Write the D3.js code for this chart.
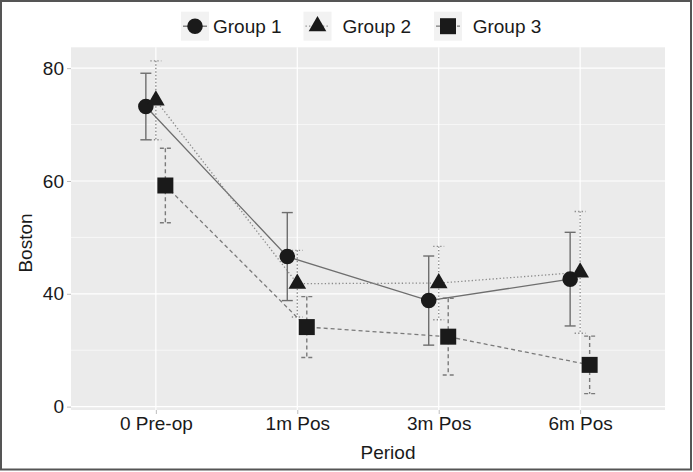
<!DOCTYPE html>
<html>
<head>
<meta charset="utf-8">
<script src="https://cdn.jsdelivr.net/npm/d3@7"></script>
<style>
  html, body { margin: 0; padding: 0; background: #fff; }
  svg { display: block; }
  text { font-family: "Liberation Sans", Arial, Helvetica, sans-serif; }
</style>
</head>
<body>
<div id="chart"></div>
<script>
// ---- data ----
const categories = ["0 Pre-op", "1m Pos", "3m Pos", "6m Pos"];
const groups = ["Group 1", "Group 2", "Group 3"];
const group1Mean = [73.2, 46.6, 38.8, 42.6];
const group1Err  = [5.9, 7.8, 7.9, 8.3];
const group2Mean = [74.3, 41.8, 41.9, 43.8];
const group2Err  = [7.0, 5.9, 6.5, 10.8];
const group3Mean = [59.2, 34.1, 32.4, 27.4];
const group3Err  = [6.6, 5.4, 6.8, 5.1];
const yTickValues = [20, 40, 60, 80];
const yTickLabels = ["0", "40", "60", "80"];
const yMinorValues = [30, 50, 70];
const xTitle = "Period";
const yTitle = "Boston";

// ---- layout ----
const W = 693, H = 472;
const panel = { left: 71, right: 665, top: 47.3, bottom: 410 };
const dodge = [-10, 0, 9.5];
const dash = ["none", "1.3,2.2", "4,3"];
const lineColor = ["#6e6e6e", "#8a8a8a", "#7a7a7a"];
const symbols = [d3.symbolCircle, d3.symbolTriangle, d3.symbolSquare];
const symSizes = [190, 135, 256];
const ink = "#1a1a1a";

const series = [
  { name: groups[0], mean: group1Mean, err: group1Err },
  { name: groups[1], mean: group2Mean, err: group2Err },
  { name: groups[2], mean: group3Mean, err: group3Err }
];

const svg = d3.select("#chart").append("svg")
  .attr("width", W).attr("height", H);

svg.append("rect").attr("x", 0).attr("y", 0).attr("width", W).attr("height", H).attr("fill", "#fff");

const x = d3.scalePoint().domain(categories).range([panel.left, panel.right]).padding(0.6);
const y = d3.scaleLinear().domain([19.4, 83.7]).range([panel.bottom, panel.top]);

// panel background
svg.append("rect")
  .attr("x", panel.left).attr("y", panel.top)
  .attr("width", panel.right - panel.left).attr("height", panel.bottom - panel.top)
  .attr("fill", "#ebebeb");

// grid
const g = svg.append("g");
g.selectAll(".minor").data(yMinorValues).join("line")
  .attr("x1", panel.left).attr("x2", panel.right)
  .attr("y1", d => y(d)).attr("y2", d => y(d))
  .attr("stroke", "#fff").attr("stroke-width", 0.6);
g.selectAll(".majorY").data(yTickValues).join("line")
  .attr("x1", panel.left).attr("x2", panel.right)
  .attr("y1", d => y(d)).attr("y2", d => y(d))
  .attr("stroke", "#fff").attr("stroke-width", 1.2);
g.selectAll(".majorX").data(categories).join("line")
  .attr("x1", d => x(d)).attr("x2", d => x(d))
  .attr("y1", panel.top).attr("y2", panel.bottom)
  .attr("stroke", "#fff").attr("stroke-width", 1.2);

// axes
const yAxis = d3.axisLeft(y).tickValues(yTickValues)
  .tickFormat((d, i) => yTickLabels[i]).tickSize(4).tickPadding(3);
const ya = svg.append("g").attr("transform", `translate(${panel.left},0)`).call(yAxis);
ya.select(".domain").remove();
ya.selectAll(".tick line").attr("stroke", "#bdbdbd");
ya.selectAll(".tick text").attr("fill", ink).attr("font-size", 19);

const xAxis = d3.axisBottom(x).tickSize(4).tickPadding(3);
const xa = svg.append("g").attr("transform", `translate(0,${panel.bottom})`).call(xAxis);
xa.select(".domain").remove();
xa.selectAll(".tick line").attr("stroke", "#bdbdbd");
xa.selectAll(".tick text").attr("fill", ink).attr("font-size", 19);

// axis titles
svg.append("text").attr("x", (panel.left + panel.right) / 2 + 20).attr("y", 459)
  .attr("text-anchor", "middle").attr("font-size", 19).attr("fill", ink).text(xTitle);
svg.append("text").attr("transform", "translate(32,243) rotate(-90)")
  .attr("text-anchor", "middle").attr("font-size", 19).attr("fill", ink).text(yTitle);

// series
const px = (si, i) => x(categories[i]) + dodge[si];
series.forEach((s, si) => {
  const sg = svg.append("g");
  const eb = sg.selectAll(".eb").data(categories).join("g");
  eb.append("line")
    .attr("x1", (d, i) => px(si, i)).attr("x2", (d, i) => px(si, i))
    .attr("y1", (d, i) => y(s.mean[i] + s.err[i])).attr("y2", (d, i) => y(s.mean[i] - s.err[i]))
    .attr("stroke", lineColor[si]).attr("stroke-width", 1.4).attr("stroke-dasharray", dash[si]);
  [1, -1].forEach(sign => {
    eb.append("line")
      .attr("x1", (d, i) => px(si, i) - 5.5).attr("x2", (d, i) => px(si, i) + 5.5)
      .attr("y1", (d, i) => y(s.mean[i] + sign * s.err[i])).attr("y2", (d, i) => y(s.mean[i] + sign * s.err[i]))
      .attr("stroke", lineColor[si]).attr("stroke-width", 1.4).attr("stroke-dasharray", dash[si]);
  });
});
series.forEach((s, si) => {
  const line = d3.line().x((d, i) => px(si, i)).y(d => y(d));
  svg.append("path").datum(s.mean).attr("d", line)
    .attr("fill", "none").attr("stroke", lineColor[si]).attr("stroke-width", 1.3)
    .attr("stroke-dasharray", dash[si]);
});
series.forEach((s, si) => {
  svg.append("g").selectAll("path").data(s.mean).join("path")
    .attr("transform", (d, i) => `translate(${px(si, i)},${y(d)})`)
    .attr("d", d3.symbol().type(symbols[si]).size(symSizes[si]))
    .attr("fill", ink);
});

// legend
const legendX = [181, 303.5, 434];
const legendTextDx = [32, 39, 38.7];
const legend = svg.append("g");
series.forEach((s, si) => {
  const lg = legend.append("g").attr("transform", `translate(${legendX[si]},11.7)`);
  lg.append("rect").attr("width", 28).attr("height", 29).attr("fill", "#f2f2f2");
  lg.append("line").attr("x1", 2).attr("x2", 26).attr("y1", 14.5).attr("y2", 14.5)
    .attr("stroke", lineColor[si]).attr("stroke-width", 1.3).attr("stroke-dasharray", dash[si]);
  lg.append("path").attr("transform", "translate(14,14.5)")
    .attr("d", d3.symbol().type(symbols[si]).size(symSizes[si])).attr("fill", ink);
  lg.append("text").attr("x", legendTextDx[si]).attr("y", 21.5).attr("font-size", 19).attr("fill", ink).text(s.name);
});

// outer frame
svg.append("rect").attr("x", 1).attr("y", 1).attr("width", 690).attr("height", 468.5)
  .attr("fill", "none").attr("stroke", "#555").attr("stroke-width", 2);
</script>
</body>
</html>
